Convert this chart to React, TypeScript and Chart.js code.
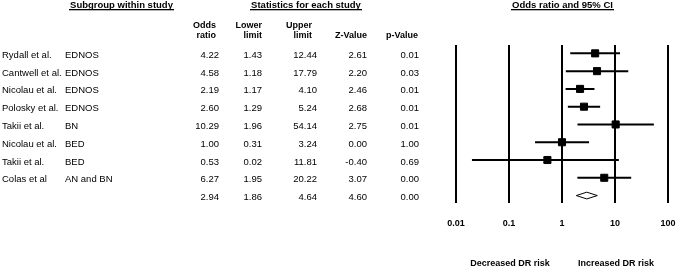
import { useEffect, useRef } from 'react';
import { Chart, registerables } from 'chart.js';

Chart.register(...registerables);

const studies = ['Rydall et al.', 'Cantwell et al.', 'Nicolau et al.', 'Polosky et al.', 'Takii et al.', 'Nicolau et al.', 'Takii et al.', 'Colas et al'];
const subgroups = ['EDNOS', 'EDNOS', 'EDNOS', 'EDNOS', 'BN', 'BED', 'BED', 'AN and BN'];
const oddsRatio = [4.22, 4.58, 2.19, 2.60, 10.29, 1.00, 0.53, 6.27];
const lowerLimit = [1.43, 1.18, 1.17, 1.29, 1.96, 0.31, 0.02, 1.95];
const upperLimit = [12.44, 17.79, 4.10, 5.24, 54.14, 3.24, 11.81, 20.22];
const zValue = [2.61, 2.20, 2.46, 2.68, 2.75, 0.00, -0.40, 3.07];
const pValue = [0.01, 0.03, 0.01, 0.01, 0.01, 1.00, 0.69, 0.00];
const summaryOR = 2.94;
const summaryLower = 1.86;
const summaryUpper = 4.64;
const summaryZ = 4.60;
const summaryP = 0.00;
const xTicks = [0.01, 0.1, 1, 10, 100];
const xTickLabels = ['0.01', '0.1', '1', '10', '100'];

const FONT = '"Liberation Sans", Arial, Helvetica, sans-serif';

export default function App() {
  const ref = useRef<HTMLCanvasElement>(null);

  useEffect(() => {
    const canvas = ref.current;
    if (!canvas) return;
    const n = studies.length;
    const dh = 0.19;

    const squares: any = {
      type: 'scatter',
      label: 'Odds ratio',
      data: oddsRatio.map((v, i) => ({ x: v, y: i })),
      pointStyle: 'rect',
      pointRadius: 5,
      pointHoverRadius: 5,
      backgroundColor: '#000',
      borderColor: '#000',
      borderWidth: 1,
      showLine: false,
    };
    const ciLines: any[] = studies.map((s, i) => ({
      type: 'line',
      label: s,
      data: [{ x: lowerLimit[i], y: i }, { x: upperLimit[i], y: i }],
      borderColor: '#000',
      borderWidth: 2,
      pointRadius: 0,
      pointHoverRadius: 0,
      showLine: true,
      fill: false,
      tension: 0,
    }));
    const diamond: any = {
      type: 'line',
      label: 'Summary',
      data: [
        { x: summaryLower, y: n },
        { x: summaryOR, y: n - dh },
        { x: summaryUpper, y: n },
        { x: summaryOR, y: n + dh },
        { x: summaryLower, y: n },
      ],
      borderColor: '#000',
      borderWidth: 1,
      pointRadius: 0,
      pointHoverRadius: 0,
      showLine: true,
      fill: false,
      tension: 0,
    };

    const tablePlugin = {
      id: 'forestTable',
      afterDraw(chart: any) {
        const ctx = chart.ctx as CanvasRenderingContext2D;
        const ys = chart.scales.y;
        const xs = chart.scales.x;
        ctx.save();
        ctx.fillStyle = '#000';
        // group headers
        ctx.font = `bold 9.5px ${FONT}`;
        ctx.textBaseline = 'alphabetic';
        ctx.textAlign = 'center';
        const groups: [string, number][] = [
          ['Subgroup within study', 121.5],
          ['Statistics for each study', 306],
          ['Odds ratio and 95% CI', 562.5],
        ];
        groups.forEach(([t, cx]) => {
          ctx.fillText(t, cx, 8);
          const w = ctx.measureText(t).width + 2;
          ctx.fillRect(Math.round(cx - w / 2), 9, Math.round(w), 1.3);
        });
        // column headers
        ctx.font = `bold 9px ${FONT}`;
        ctx.textAlign = 'right';
        const colHead: [string, string, number][] = [
          ['Odds', 'ratio', 216],
          ['Lower', 'limit', 262],
          ['Upper', 'limit', 312],
          ['', 'Z-Value', 367],
          ['', 'p-Value', 418],
        ];
        colHead.forEach(([a, b, x]) => {
          if (a) ctx.fillText(a, x, 28);
          ctx.fillText(b, x, 38);
        });
        // rows
        ctx.font = `9.5px ${FONT}`;
        const numX = [219, 262, 317, 367, 419];
        const rowText = (i: number, vals: number[]) => {
          const y = ys.getPixelForValue(i) + 4.5;
          vals.forEach((v, k) => {
            ctx.textAlign = 'right';
            ctx.fillText(v.toFixed(2), numX[k], y);
          });
        };
        studies.forEach((s, i) => {
          const y = ys.getPixelForValue(i) + 4.5;
          ctx.textAlign = 'left';
          ctx.fillText(s, 2, y);
          ctx.fillText(subgroups[i], 65, y);
          rowText(i, [oddsRatio[i], lowerLimit[i], upperLimit[i], zValue[i], pValue[i]]);
        });
        rowText(n, [summaryOR, summaryLower, summaryUpper, summaryZ, summaryP]);
        // bottom captions
        ctx.font = `bold 9px ${FONT}`;
        ctx.textAlign = 'center';
        ctx.fillText('Decreased DR risk', xs.getPixelForValue(0.1) + 1, 266);
        ctx.fillText('Increased DR risk', xs.getPixelForValue(10) + 1, 266);
        ctx.restore();
      },
    };

    const chart = new Chart(canvas, {
      type: 'scatter',
      data: { datasets: [squares, diamond, ...ciLines] },
      options: {
        animation: false,
        responsive: false,
        events: [],
        layout: { padding: { left: 456, right: 8, top: 45, bottom: 38 } },
        plugins: { legend: { display: false }, tooltip: { enabled: false } },
        scales: {
          x: {
            type: 'logarithmic',
            min: 0.01,
            max: 100,
            afterBuildTicks: (scale: any) => {
              scale.ticks = xTicks.map((v) => ({ value: v, major: false }));
            },
            ticks: {
              autoSkip: false,
              maxRotation: 0,
              padding: 0,
              color: '#000',
              font: { family: FONT, size: 9, weight: 'bold' },
              callback: (v: any) => {
                const k = xTicks.findIndex((t) => Math.abs(Math.log10(t) - Math.log10(Number(v))) < 1e-6);
                return k >= 0 ? xTickLabels[k] : '';
              },
            },
            grid: {
              color: '#000',
              lineWidth: 2,
              drawTicks: true,
              tickLength: 15,
              tickColor: 'rgba(0,0,0,0)',
            },
            border: { display: false },
          },
          y: {
            type: 'linear',
            display: false,
            reverse: true,
            min: -0.47,
            max: 8.43,
          },
        },
      } as any,
      plugins: [tablePlugin],
    });
    return () => chart.destroy();
  }, []);

  return (
    <div style={{ position: 'absolute', left: 0, top: 0, width: 676, height: 267, background: '#fff' }}>
      <canvas ref={ref} width={676} height={267} />
    </div>
  );
}
